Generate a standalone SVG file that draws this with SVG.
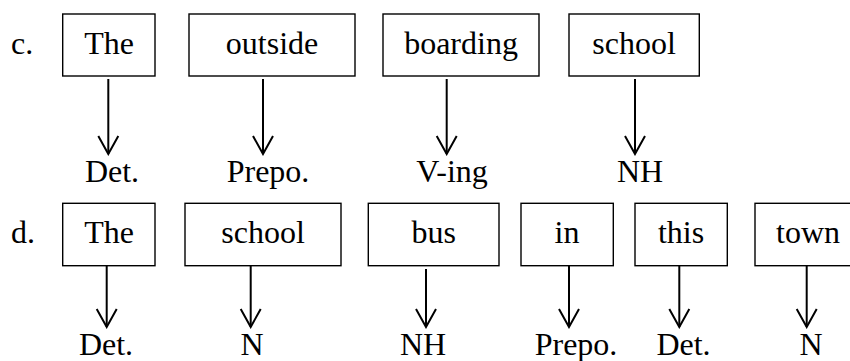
<svg xmlns="http://www.w3.org/2000/svg" width="850" height="361" viewBox="0 0 850 361">
<defs>
<style>
.m{text-anchor:middle}
.box{fill:#fff;stroke:#000;stroke-width:1.4}
.arr{stroke:#000;stroke-width:2;fill:none;marker-end:url(#ah)}
</style>
<marker id="ah" viewBox="-20 -12 22 24" markerWidth="22" markerHeight="24" refX="0" refY="0" orient="auto" markerUnits="userSpaceOnUse">
<path d="M-18,-10 L0,0 L-18,10" fill="none" stroke="#000" stroke-width="2"/>
</marker>
</defs>
<rect width="850" height="361" fill="#fff"/>
<g font-family="'Liberation Serif'" font-size="32" fill="#000">
<text x="11" y="54">c.</text>
<text x="11" y="243">d.</text>
<g id="c-the"><rect class="box" x="62.7" y="14" width="92.3" height="62"/><text class="m" x="109" y="54">The</text></g>
<g id="c-outside"><rect class="box" x="189" y="14" width="166" height="62"/><text class="m" x="272" y="54">outside</text></g>
<g id="c-boarding"><rect class="box" x="383" y="14" width="156" height="62"/><text class="m" x="461" y="54">boarding</text></g>
<g id="c-school"><rect class="box" x="569" y="14" width="130.3" height="62"/><text class="m" x="634" y="54">school</text></g>
<g id="c-det"><text class="m" x="112" y="182">Det.</text></g>
<g id="c-prepo"><text class="m" x="268" y="182">Prepo.</text></g>
<g id="c-ving"><text class="m" x="452" y="182">V-ing</text></g>
<g id="c-nh"><text class="m" x="640" y="182">NH</text></g>
<g id="d-the"><rect class="box" x="62.7" y="203.3" width="92.3" height="62.4"/><text class="m" x="109" y="243">The</text></g>
<g id="d-school"><rect class="box" x="185" y="203.3" width="156" height="62.4"/><text class="m" x="263" y="243">school</text></g>
<g id="d-bus"><rect class="box" x="368.3" y="203.3" width="130.7" height="62.4"/><text class="m" x="433.7" y="243">bus</text></g>
<g id="d-in"><rect class="box" x="521" y="203.3" width="92.3" height="62.4"/><text class="m" x="567" y="243">in</text></g>
<g id="d-this"><rect class="box" x="635" y="203.3" width="92.3" height="62.4"/><text class="m" x="681" y="243">this</text></g>
<g id="d-town"><rect class="box" x="755" y="203.3" width="100" height="62.4"/><text class="m" x="808" y="243">town</text></g>
<g id="d-det1"><text class="m" x="106" y="355">Det.</text></g>
<g id="d-n1"><text class="m" x="252" y="355">N</text></g>
<g id="d-nh"><text class="m" x="423" y="355">NH</text></g>
<g id="d-prepo"><text class="m" x="576" y="355">Prepo.</text></g>
<g id="d-det2"><text class="m" x="683.5" y="355">Det.</text></g>
<g id="d-n2"><text class="m" x="811" y="355">N</text></g>
</g>
<g id="connectors">
<line class="arr" x1="108.3" y1="79" x2="108.3" y2="154"/>
<line class="arr" x1="263" y1="79" x2="263" y2="154"/>
<line class="arr" x1="446.7" y1="79" x2="446.7" y2="154"/>
<line class="arr" x1="635" y1="79" x2="635" y2="154"/>
<line class="arr" x1="106.7" y1="266" x2="106.7" y2="327"/>
<line class="arr" x1="250.7" y1="266" x2="250.7" y2="327"/>
<line class="arr" x1="426" y1="269" x2="426" y2="327"/>
<line class="arr" x1="569" y1="266" x2="569" y2="327"/>
<line class="arr" x1="679.3" y1="266" x2="679.3" y2="327"/>
<line class="arr" x1="806.7" y1="266" x2="806.7" y2="327"/>
</g>
</svg>
